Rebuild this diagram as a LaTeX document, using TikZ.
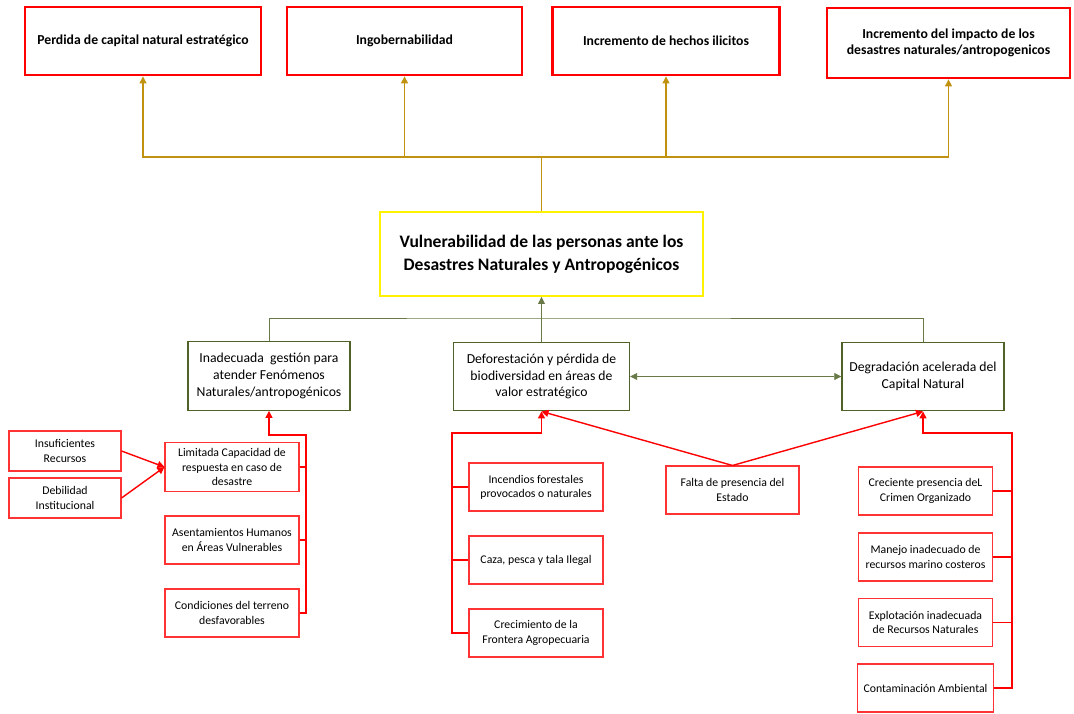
\documentclass[tikz,border=0pt]{standalone}
\usepackage{fontspec}
\setmainfont{Carlito}
\usetikzlibrary{arrows.meta}
\definecolor{oro}{RGB}{193,146,16}
\definecolor{verde}{RGB}{79,98,40}
\definecolor{rojo}{RGB}{255,0,0}
\tikzset{
  efecto/.style={draw=rojo,line width=1.6pt,align=center,minimum height=1.36cm,
    font=\bfseries\fontsize{7.8}{9.4}\selectfont},
  nucleo/.style={draw=yellow,line width=1.1pt,align=center,minimum width=6.46cm,
    minimum height=1.68cm,font=\bfseries\fontsize{10}{13}\selectfont},
  causa/.style={draw=verde,line width=0.8pt,align=center,minimum height=1.37cm,
    font=\fontsize{7.8}{9.6}\selectfont},
  subcausa/.style={draw=rojo!80,line width=0.6pt,align=center,minimum width=2.68cm,
    minimum height=0.96cm,font=\fontsize{6.7}{8.1}\selectfont},
  lineaoro/.style={draw=oro,line width=0.6pt},
  lineaverde/.style={draw=verde!85,line width=0.45pt},
  linearoja/.style={draw=rojo,line width=0.8pt},
  >={Triangle[length=4pt,width=4pt]}
}
\begin{document}
\begin{tikzpicture}[x=0.02cm,y=-0.02cm]
  \useasboundingbox (0,0) rectangle (1074,713);
  \node[efecto,minimum width=4.72cm] (T1) at (143,41) {Perdida de capital natural estratégico};
  \node[efecto,minimum width=4.70cm] (T2) at (404.5,41) {Ingobernabilidad};
  \node[efecto,minimum width=4.54cm] (T3) at (666,41) {Incremento de hechos ilicitos};
  \node[efecto,minimum width=4.86cm,minimum height=1.40cm] (T4) at (948.5,43)
    {Incremento del impacto de los\\desastres naturales/antropogenicos};
  \node[nucleo] (core) at (541.5,254)
    {Vulnerabilidad de las personas ante los\\Desastres Naturales y Antropogénicos};
  \node[causa,minimum width=3.24cm] (M1) at (269,376)
    {Inadecuada\ \ gestión para\\atender Fenómenos\\Naturales/antropogénicos};
  \node[causa,minimum width=3.52cm] (M2) at (541.5,376.5)
    {Deforestación y pérdida de\\biodiversidad en áreas de\\valor estratégico};
  \node[causa,minimum width=3.24cm] (M3) at (923,376.5)
    {Degradación acelerada del\\Capital Natural};
  \node[subcausa,minimum width=2.24cm,minimum height=0.8cm] (La) at (65,451) {Insuficientes\\Recursos};
  \node[subcausa,minimum width=2.24cm,minimum height=0.8cm] (Lb) at (65,498) {Debilidad\\Institucional};
  \node[subcausa] (L1) at (232,467) {Limitada Capacidad de\\respuesta en caso de\\desastre};
  \node[subcausa] (L2) at (232,540) {Asentamientos Humanos\\en Áreas Vulnerables};
  \node[subcausa] (L3) at (232,613) {Condiciones del terreno\\desfavorables};
  \node[subcausa] (C1) at (536,487) {Incendios forestales\\provocados o naturales};
  \node[subcausa] (C2) at (536,560) {Caza, pesca y tala Ilegal};
  \node[subcausa] (C3) at (536,633) {Crecimiento de la\\Frontera Agropecuaria};
  \node[subcausa,minimum width=2.66cm] (F) at (732.5,490) {Falta de presencia del\\Estado};
  \node[subcausa] (R1) at (925.5,491) {Creciente presencia deL\\Crimen Organizado};
  \node[subcausa] (R2) at (925.5,557) {Manejo inadecuado de\\recursos marino costeros};
  \node[subcausa] (R3) at (925.5,622.5) {Explotación inadecuada\\de Recursos Naturales};
  \node[subcausa] (R4) at (925.5,688) {Contaminación Ambiental};
  \coordinate (barraoro) at (541.5,157);
  \coordinate (barraverde) at (541.5,318);
  \coordinate (barraizq) at (306,435);
  \coordinate (barracen) at (452,433);
  \coordinate (barrader) at (1012,433);
  \draw[lineaoro] (core.north) -- (barraoro);
  \foreach \t in {T1,T2,T3,T4}
    \draw[lineaoro,->] (barraoro) -| (\t.south);
  \draw[lineaverde,->] (M2.north) -- (core.south);
  \draw[lineaverde] (M1.north) |- (barraverde) -| (M3.north);
  \draw[lineaverde,<->] (M2.east) -- (M3.west);
  \draw[linearoja,->] (La.east) -- (L1.west);
  \draw[linearoja,->] (Lb.east) -- (L1.west);
  \draw[linearoja,->] (L3.east) -| (barraizq) -| (M1.south);
  \foreach \b in {L1,L2}
    \draw[linearoja] (\b.east) -- (\b.east -| barraizq);
  \draw[linearoja,->] (C3.west) -| (barracen) -| (M2.south);
  \foreach \b in {C1,C2}
    \draw[linearoja] (\b.west) -- (\b.west -| barracen);
  \draw[linearoja,->] (F.north) -- (M2.south);
  \draw[linearoja,->] (F.north) -- (M3.south);
  \draw[linearoja,->] (R4.east) -| (barrader) -| (M3.south);
  \foreach \b in {R1,R2,R3}
    \draw[linearoja] (\b.east) -- (\b.east -| barrader);
\end{tikzpicture}
\end{document}
